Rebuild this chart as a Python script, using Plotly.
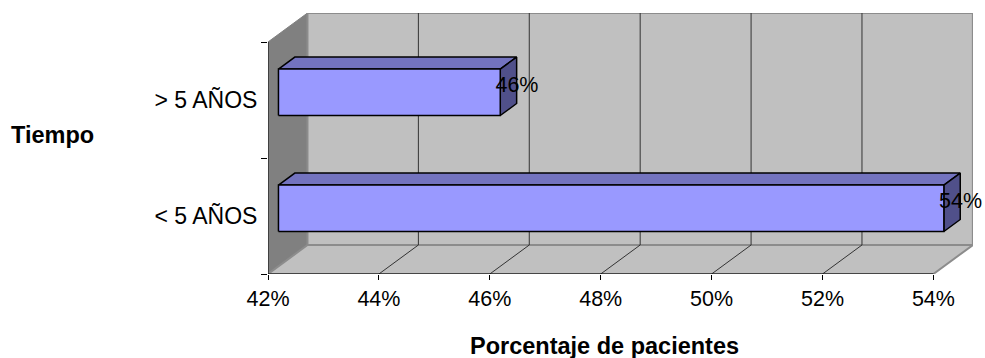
import plotly.graph_objects as go

# Chart data
categories = ["< 5 AÑOS", "> 5 AÑOS"]
percentages = [54, 46]
x_ticks = [42, 44, 46, 48, 50, 52, 54]
x_title = "Porcentaje de pacientes"
y_title = "Tiempo"

# Oblique projection of the 3D box, in axis units
DEPTH_X = 0.712
DEPTH_Y = 0.25
BAR_FRONT = 0.265
BAR_BACK = 0.68
BAR_HALF = 0.2
X0, X1 = x_ticks[0], x_ticks[-1]
Y1 = len(categories)

WALL = "#C0C0C0"
SIDE = "#808080"
EDGE = "#8C8C8C"
FRONT = "#9999FF"
TOP = "#7373BF"
END = "#50508A"


def pt(x, y, depth=0.0):
    return x + depth * DEPTH_X, y + depth * DEPTH_Y


def poly(points, fill=None, line=None, width=1.0):
    xs = [p[0] for p in points]
    ys = [p[1] for p in points]
    if fill:
        xs.append(xs[0])
        ys.append(ys[0])
    return go.Scatter(
        x=xs, y=ys, mode="lines", fill="toself" if fill else None,
        fillcolor=fill, line=dict(color=line or "rgba(0,0,0,0)", width=width),
        hoverinfo="skip", showlegend=False, cliponaxis=False,
    )


fig = go.Figure()

# Walls and floor
fig.add_trace(poly([pt(X0, 0), pt(X0, Y1), pt(X0, Y1, 1), pt(X0, 0, 1)], SIDE, SIDE))
fig.add_trace(poly([pt(X0, 0, 1), pt(X0, Y1, 1), pt(X1, Y1, 1), pt(X1, 0, 1)], WALL, EDGE, 2))
fig.add_trace(poly([pt(X0, 0), pt(X0, 0, 1), pt(X1, 0, 1), pt(X1, 0)], WALL, EDGE, 2))

# Grid lines across the back wall and the floor
for t in x_ticks[1:-1]:
    fig.add_trace(poly([pt(t, 0), pt(t, 0, 1), pt(t, Y1, 1)], None, "#333333", 1))

# Bars
for i, v in enumerate(percentages):
    lo, hi = i + 0.5 - BAR_HALF, i + 0.5 + BAR_HALF
    fig.add_trace(poly([pt(X0, hi, BAR_FRONT), pt(X0, hi, BAR_BACK), pt(v, hi, BAR_BACK), pt(v, hi, BAR_FRONT)],
                       TOP, "#000000", 1.5))
    fig.add_trace(poly([pt(v, lo, BAR_FRONT), pt(v, hi, BAR_FRONT), pt(v, hi, BAR_BACK), pt(v, lo, BAR_BACK)],
                       END, "#000000", 1.5))
    fig.add_trace(poly([pt(X0, lo, BAR_FRONT), pt(X0, hi, BAR_FRONT), pt(v, hi, BAR_FRONT), pt(v, lo, BAR_FRONT)],
                       FRONT, "#000000", 1.5))

# Axis lines
fig.add_trace(poly([pt(X0, Y1), pt(X0, 0), pt(X1, 0)], None, "#000000", 1))

# Value labels beside the bar ends
fig.add_trace(go.Scatter(
    x=[v + 0.49 for v in percentages],
    y=[i + 0.5 + 0.115 for i in range(len(percentages))],
    yaxis="y2", mode="text",
    text=[f"{v}%" for v in percentages],
    textposition="middle center",
    textfont=dict(family="Liberation Sans, Arial", size=21.5, color="#000000"),
    hoverinfo="skip", showlegend=False, cliponaxis=False,
))

FAMILY = "Liberation Sans, Arial"
SCALE = 55.45
fig.update_layout(
    width=985, height=358,
    margin=dict(l=268, r=12, t=13, b=84, autoexpand=False),
    paper_bgcolor="#FFFFFF", plot_bgcolor="rgba(0,0,0,0)",
    xaxis=dict(
        range=[42, 42 + 705 / SCALE], tickmode="array", tickvals=x_ticks,
        ticktext=[f"{t}%" for t in x_ticks], ticks="outside", ticklen=5,
        tickcolor="#000000", showgrid=False, zeroline=False, showline=False,
        tickfont=dict(family=FAMILY, size=21.5, color="#000000"),
    ),
    yaxis=dict(
        range=[0, 2.25], tickmode="array", tickvals=list(range(Y1 + 1)),
        ticktext=[""] * (Y1 + 1), ticks="outside", ticklen=6, tickcolor="#000000",
        showgrid=False, zeroline=False, showline=False,
    ),
    yaxis2=dict(
        range=[0, 2.25], overlaying="y", side="left", anchor="x", tickmode="array",
        tickvals=[i + 0.5 for i in range(Y1)], ticktext=categories,
        ticks="outside", ticklen=5, tickcolor="rgba(0,0,0,0)",
        showgrid=False, zeroline=False, showline=False,
        tickfont=dict(family=FAMILY, size=23, color="#000000"),
    ),
    annotations=[
        dict(text=f"<b>{x_title}</b>", xref="paper", yref="paper", x=(604 - 268) / 705,
             y=-(346 - 274) / 261, xanchor="center", yanchor="middle", showarrow=False,
             font=dict(family=FAMILY, size=23.5, color="#000000")),
        dict(text=f"<b>{y_title}</b>", xref="paper", yref="paper", x=(52 - 268) / 705,
             y=(274 - 135) / 261, xanchor="center", yanchor="middle", showarrow=False,
             font=dict(family=FAMILY, size=23.5, color="#000000")),
    ],
)

fig.write_html("out.html")
